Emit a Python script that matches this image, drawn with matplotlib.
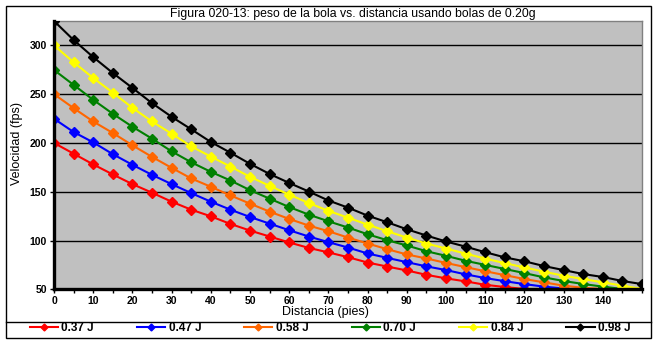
# Librerías
import numpy as np
import matplotlib
matplotlib.use("Agg")
import matplotlib.pyplot as plt
from matplotlib.lines import Line2D
from matplotlib.patches import Rectangle

# Datos
distancia = list(range(0, 151, 5))

v_037 = [200, 189, 178, 167.7, 157.8, 149, 139.8, 131.6, 124.8, 117, 110.2,
         104.1, 98, 92.4, 87.8, 82.9, 77.4, 73.3, 69.3, 64.8, 61.2, 58.1,
         54.6, 52.3, 50.3, 48, 46, 44, 42, 40, 38]
v_047 = [224.8, 211.2, 200.6, 188.5, 177.6, 167.3, 157.8, 148.6, 139.8, 131.6,
         124.1, 117.3, 110.5, 104.1, 98.3, 92.8, 86.7, 82.2, 77.8, 73.5, 69.7,
         65.3, 61.5, 58.3, 55.3, 52.7, 50.8, 48.6, 46.5, 44.5, 42.5]
v_058 = [250, 235.7, 222, 210.2, 197.6, 185.7, 174.5, 163.6, 155.1, 146.2,
         137.8, 129.6, 122.1, 115.3, 109.5, 103, 96.9, 91.1, 85.7, 81.6, 77,
         72.7, 68.5, 64.5, 60.5, 57.1, 53.7, 51.5, 50.3, 48, 46]
v_070 = [274.8, 259.5, 244.2, 229.9, 216.6, 204.4, 191.4, 180.2, 170.4, 161.5,
         151.6, 142.9, 134.3, 126.5, 119.7, 113.3, 106.4, 100.3, 94.9, 89,
         84.3, 79.2, 75, 70.8, 66.6, 62.2, 58.5, 55.4, 52.7, 50.3, 49]
v_084 = [300, 282.7, 266.6, 251.6, 236, 222, 209.5, 196.5, 186, 175.8, 165.3,
         156, 147, 138.4, 130.4, 123.4, 116.3, 109.5, 103, 96.9, 91.8, 86.5,
         81.5, 76.8, 72.4, 68, 63.9, 60.5, 57.1, 53.7, 50.3]
v_098 = [325, 305.5, 288, 271.7, 256.4, 240.8, 226.8, 214, 201, 190, 178.6,
         168.2, 159, 150.2, 141, 133.7, 125.5, 118.7, 111.5, 105.1, 99, 93.7,
         88, 82.7, 78.7, 73.8, 69.7, 65.6, 62.6, 58.5, 55.3]

series = [v_037, v_047, v_058, v_070, v_084, v_098]
etiquetas = ["0.37 J", "0.47 J", "0.58 J", "0.70 J", "0.84 J", "0.98 J"]
colores = ["#FF0000", "#0000FF", "#FF6600", "#008000", "#FFFF00", "#000000"]

plt.rcParams['font.family'] = ['Liberation Sans', 'DejaVu Sans']

fig = plt.figure(figsize=(6.57, 3.43), dpi=100)
ax = fig.add_axes([0.0822, 0.1566, 0.8950, 0.7822])
ax.set_facecolor("#C0C0C0")

# Curvas
for v, c in zip(series, colores):
    ax.plot(distancia, v, color=c, lw=1.5, marker='D', ms=4.8,
            mec=c, mfc=c, zorder=3)

# Ejes
ax.set_xlim(0, 150)
ax.set_ylim(50, 325)
ax.set_yticks(range(50, 301, 50))
ax.set_xticks(distancia)
ax.set_xticklabels([str(d) if d % 10 == 0 and d < 150 else "" for d in distancia])
ax.yaxis.grid(True, color="black", lw=1.0, zorder=1)
ax.set_axisbelow(True)
ax.tick_params(axis='both', direction='out', length=3, width=1, pad=2,
               labelsize=7.5)
for lab in ax.get_xticklabels() + ax.get_yticklabels():
    lab.set_fontweight('bold')

for s in ['left', 'bottom']:
    ax.spines[s].set_linewidth(2.4)
    ax.spines[s].set_color("black")
    ax.spines[s].set_zorder(5)
for s in ['top', 'right']:
    ax.spines[s].set_linewidth(1)
    ax.spines[s].set_color("#808080")

# Textos
fig.text(0.537, 0.958, "Figura 020-13: peso de la bola vs. distancia usando bolas de 0.20g",
         ha='center', va='center', fontsize=8.8)
fig.text(0.496, 0.090, "Distancia (pies)", ha='center', va='center', fontsize=9)
fig.text(0.026, 0.583, "Velocidad (fps)", ha='center', va='center',
         rotation=90, fontsize=9)

# Marco exterior y leyenda
fig.patches.append(Rectangle((0.0084, 0.0155), 0.9825, 0.9679, transform=fig.transFigure,
                             fill=False, ec='black', lw=1))
fig.lines.append(Line2D([0.0084, 0.9909], [0.0621, 0.0621], transform=fig.transFigure,
                        color='black', lw=1))

manejadores = [Line2D([], [], color=c, lw=1.5, marker='D', ms=3.5, mec=c, mfc=c)
               for c in colores]
fig.legend(manejadores, etiquetas, ncol=6, loc='center',
           bbox_to_anchor=(0.045, 0.018, 0.915, 0.05), mode='expand',
           frameon=False, handlelength=2.4, handletextpad=0.3,
           prop={'weight': 'bold', 'size': 8.5}, borderaxespad=0, borderpad=0)

fig.savefig("out.png", dpi=100)
